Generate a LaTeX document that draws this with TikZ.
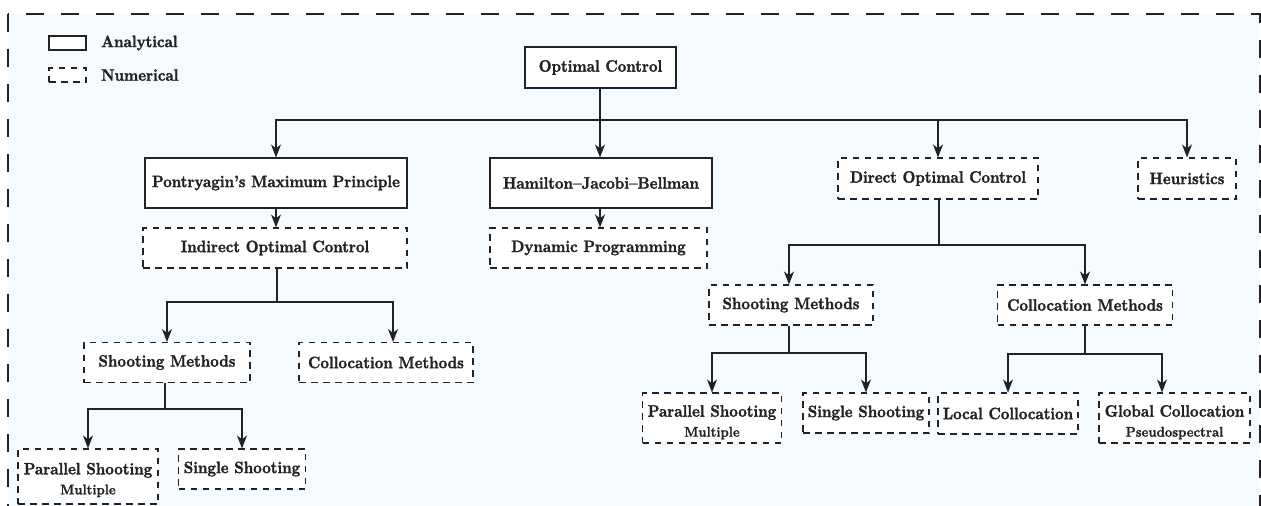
\documentclass[tikz,border=0pt]{standalone}
\usepackage{fontspec}
\usetikzlibrary{arrows.meta}
\newfontfamily\bfam{lmroman10-bold.otf}[Ligatures=TeX, FakeBold=1.6, FakeStretch=0.9]
\newfontfamily\sbfam{lmroman10-bold.otf}[Ligatures=TeX, FakeBold=1.2, FakeStretch=0.92]
\definecolor{bgc}{RGB}{245,250,254}
\definecolor{linec}{RGB}{34,34,34}
\newcommand{\mf}{\bfam\fontsize{16.5}{19}\selectfont}
\newcommand{\subf}{\sbfam\fontsize{14}{16}\selectfont}
\tikzset{
  anbox/.style={draw=linec, fill=white, line width=1.1pt, inner sep=0pt, text=linec, font=\mf, align=center},
  numbox/.style={anbox, dash pattern=on 6.5pt off 5.5pt},
  conn/.style={draw=linec, line width=1.3pt, -{Stealth[length=13pt,width=10pt,inset=4pt]}},
  link/.style={draw=linec, line width=1.3pt},
  frame/.style={draw=linec, line width=1.2pt, dash pattern=on 18pt off 17pt, fill=bgc},
  legtext/.style={anchor=west, inner sep=0pt, text=linec, font=\mf}
}
\begin{document}
\begin{tikzpicture}[x=1pt,y=-1pt]
\useasboundingbox (0,0) rectangle (1261,506);
\begin{scope}
\clip (0,0) rectangle (1261,506);
\draw[frame] (8,14) rectangle (1260,530);
\end{scope}

% legend
\node[anbox, minimum width=37pt, minimum height=14pt] (leg1) at (67.5,43) {};
\node[numbox, minimum width=37pt, minimum height=14pt] (leg2) at (67.5,75) {};
\node[legtext] (leg1t) at (101,43) {Analytical};
\node[legtext] (leg2t) at (101,75) {Numerical};

% nodes
\node[anbox, minimum width=151pt, minimum height=41pt] (oc) at (600.5,67.5) {Optimal Control};
\node[anbox, minimum width=262pt, minimum height=50pt] (pmp) at (276,183) {Pontryagin's Maximum Principle};
\node[anbox, minimum width=222pt, minimum height=50pt] (hjb) at (601,183) {Hamilton--Jacobi--Bellman};
\node[numbox, minimum width=200pt, minimum height=41pt] (doc) at (938,178.5) {Direct Optimal Control};
\node[numbox, minimum width=98pt, minimum height=41pt] (heu) at (1187,178.5) {Heuristics};
\node[numbox, minimum width=264pt, minimum height=40pt] (ioc) at (275,248) {Indirect Optimal Control};
\node[numbox, minimum width=217pt, minimum height=40pt] (dp) at (598.5,248) {Dynamic Programming};
\node[numbox, minimum width=166pt, minimum height=40pt] (smL) at (167,362.5) {Shooting Methods};
\node[numbox, minimum width=174pt, minimum height=40pt] (cmL) at (386,362.5) {Collocation Methods};
\node[numbox, minimum width=140pt, minimum height=55pt] (psL) at (88,476.5) {\rule{0pt}{18.5pt}Parallel Shooting\\[1pt]{\subf Multiple}};
\node[numbox, minimum width=127pt, minimum height=40pt] (ssL) at (242,469) {Single Shooting};
\node[numbox, minimum width=164pt, minimum height=40pt] (smR) at (791,305) {Shooting Methods};
\node[numbox, minimum width=175pt, minimum height=40pt] (cmR) at (1085,305) {Collocation Methods};
\node[numbox, minimum width=139pt, minimum height=50pt] (psR) at (712,418) {\rule{0pt}{20pt}Parallel Shooting\\[1pt]{\subf Multiple}};
\node[numbox, minimum width=126pt, minimum height=40pt] (ssR) at (866,413) {Single Shooting};
\node[numbox, minimum width=140pt, minimum height=41pt] (lc) at (1008,413.5) {Local Collocation};
\node[numbox, minimum width=151pt, minimum height=50pt] (gc) at (1174.5,418) {\rule{0pt}{20pt}Global Collocation\\[1pt]{\subf Pseudospectral}};

% junctions
\coordinate (j0) at (600,120);
\coordinate (j1) at (277,302);
\coordinate (j2) at (165,409);
\coordinate (j3) at (939,245);
\coordinate (j4) at (789,353);
\coordinate (j5) at (1085,354);

% connectors
\draw[link] (oc.south -| j0) -- (j0);
\draw[conn] (j0) -| (pmp.north);
\draw[conn] (j0) -- (hjb.north -| j0);
\draw[conn] (j0) -| (doc.north);
\draw[conn] (j0) -| (heu.north);
\draw[conn] (pmp.south) -- (pmp.south |- ioc.north);
\draw[conn] (hjb.south -| j0) -- (dp.north -| j0);

\draw[link] (ioc.south -| j1) -- (j1);
\draw[conn] (j1) -| (smL.north);
\draw[conn] (j1) -| ([xshift=7pt]cmL.north);
\draw[link] (smL.south -| j2) -- (j2);
\draw[conn] (j2) -| (psL.north);
\draw[conn] (j2) -| (ssL.north);

\draw[link] (doc.south -| j3) -- (j3);
\draw[conn] (j3) -| (j4 |- smR.north);
\draw[conn] (j3) -| (cmR.north);
\draw[link] (smR.south -| j4) -- (j4);
\draw[conn] (j4) -| (psR.north);
\draw[conn] (j4) -| (ssR.north);
\draw[link] (cmR.south -| j5) -- (j5);
\draw[conn] (j5) -| (lc.north);
\draw[conn] (j5) -| ([xshift=-12.5pt]gc.north);
\end{tikzpicture}
\end{document}
